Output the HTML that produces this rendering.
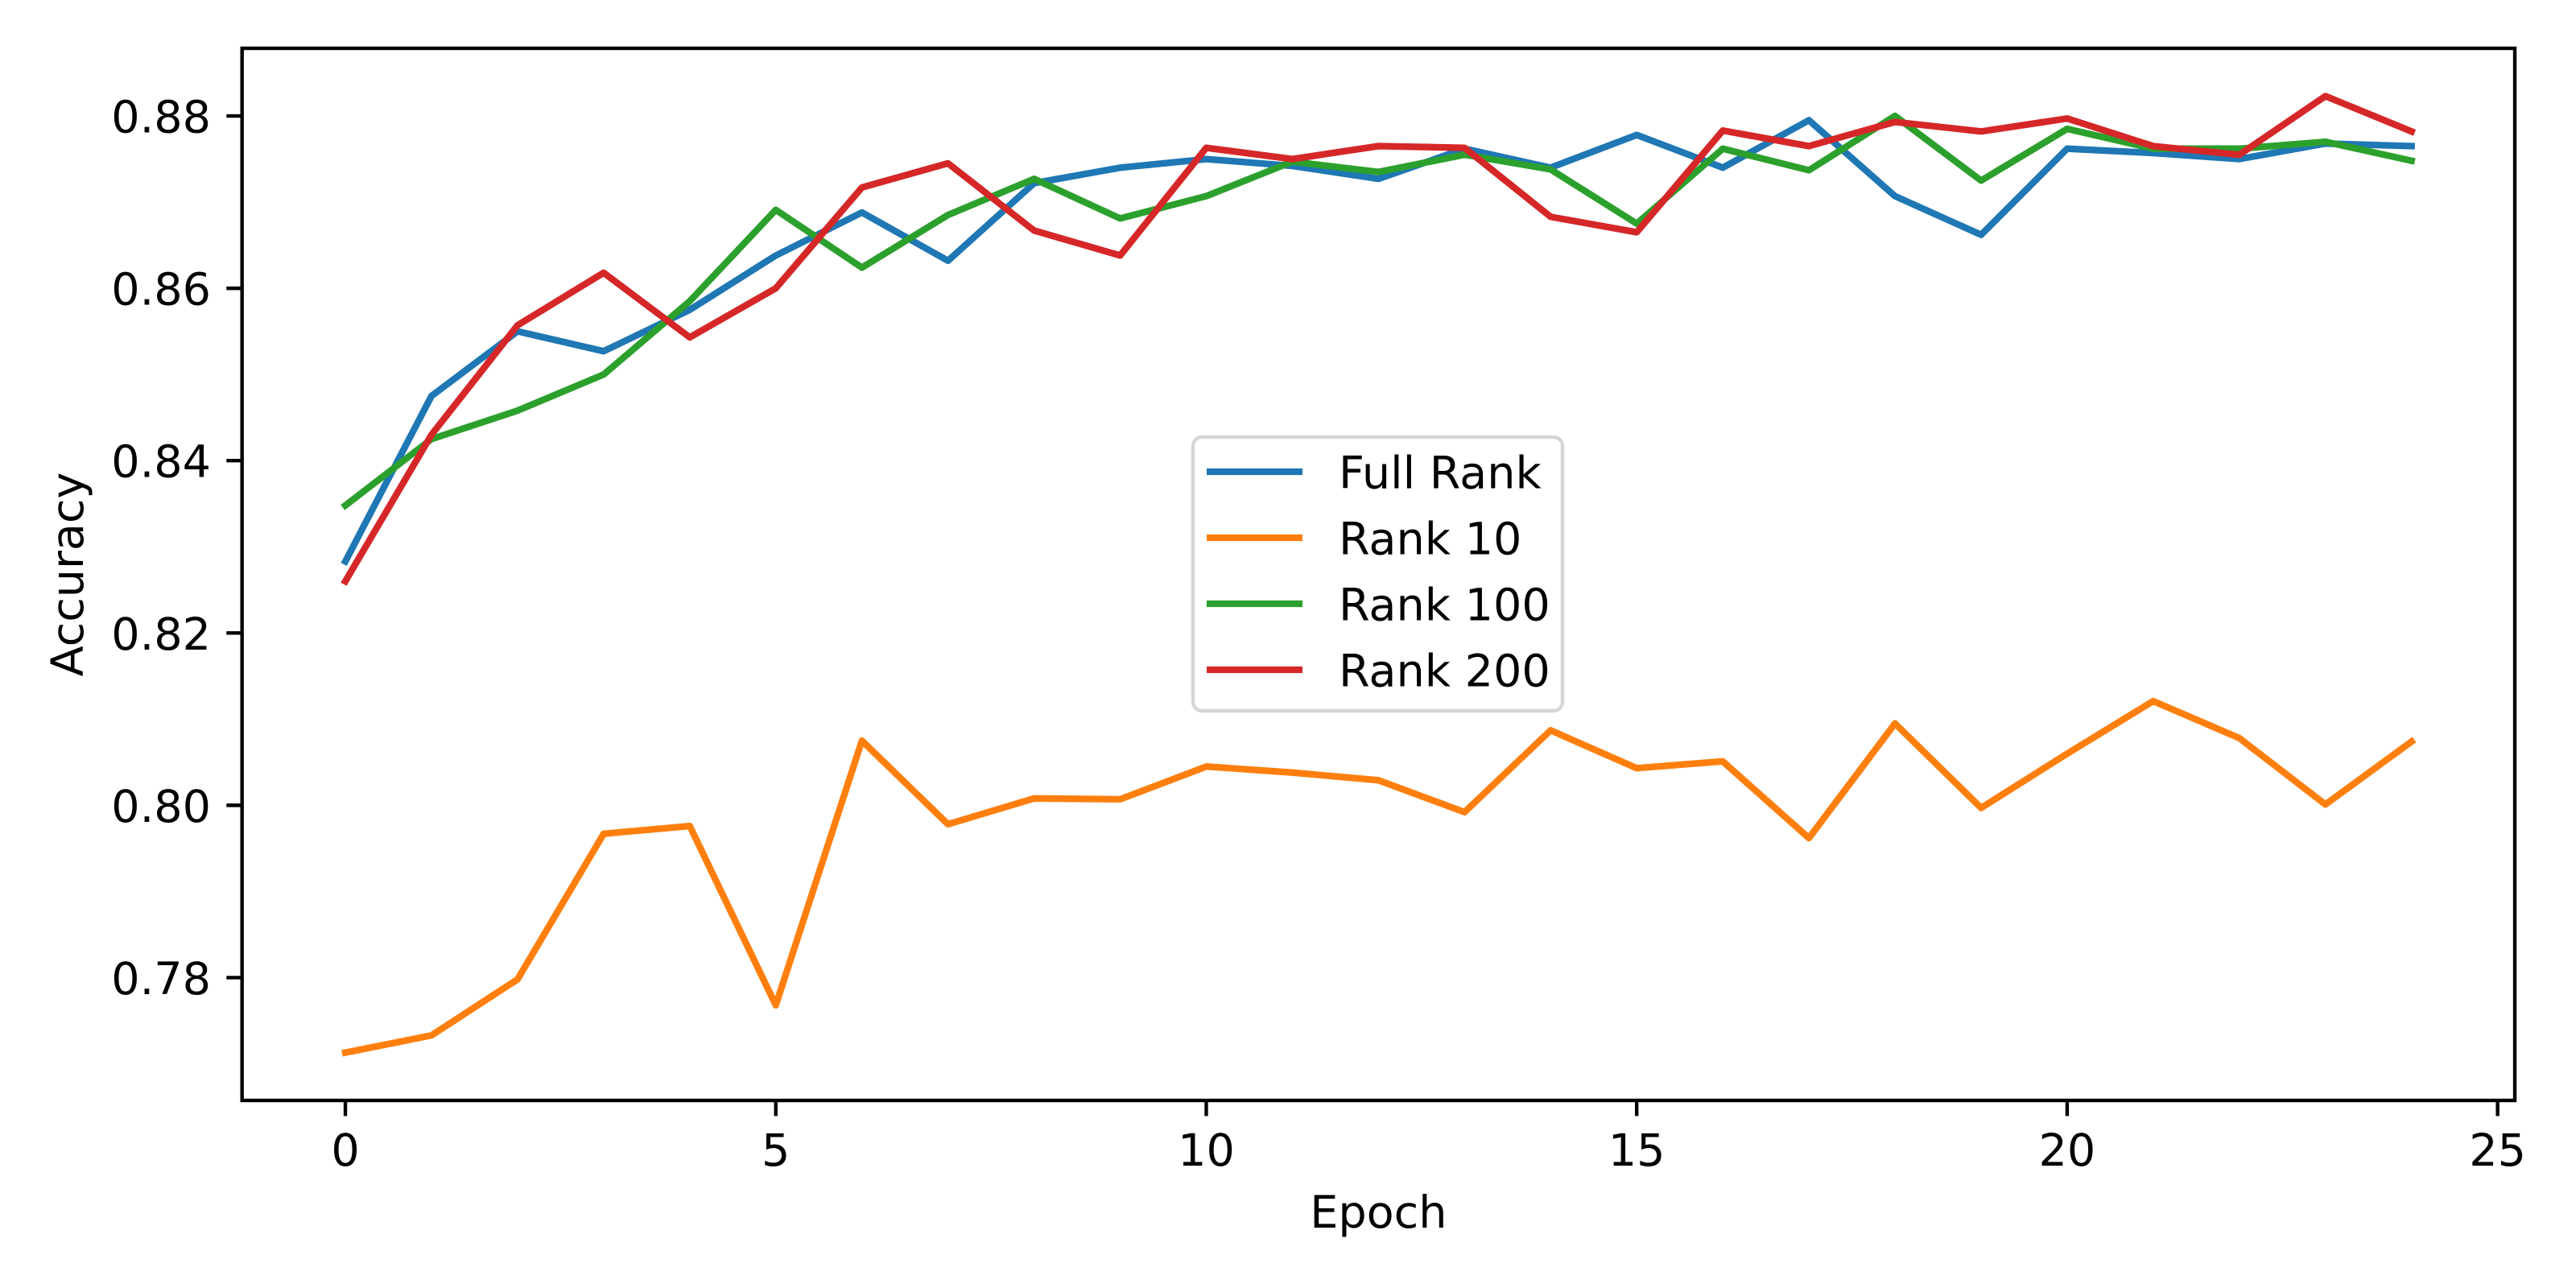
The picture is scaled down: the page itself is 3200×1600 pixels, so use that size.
<!DOCTYPE html>
<html><head><meta charset="utf-8"><style>
html,body{margin:0;padding:0;background:#fff;}
svg{display:block;font-family:"DejaVu Sans","Liberation Sans",sans-serif;}
</style></head><body>
<svg id="chart" width="3200" height="1600" viewBox="0 0 3200 1600" xmlns="http://www.w3.org/2000/svg">
<rect x="0" y="0" width="3200" height="1600" fill="#fff"/>
<g id="plot"></g>
</svg>
<script>
const epochs = [0,1,2,3,4,5,6,7,8,9,10,11,12,13,14,15,16,17,18,19,20,21,22,23,24];
const fullRank = [0.8283,0.8475,0.8550,0.8527,0.8575,0.8638,0.8688,0.8632,0.8722,0.8740,0.8750,0.8742,0.8727,0.8762,0.8740,0.8778,0.8740,0.8795,0.8707,0.8662,0.8762,0.8757,0.8750,0.8768,0.8765];
const rank10 = [0.7713,0.7733,0.7798,0.7967,0.7976,0.7768,0.8075,0.7978,0.8008,0.8007,0.8045,0.8038,0.8029,0.7992,0.8087,0.8043,0.8051,0.7962,0.8095,0.7997,0.8060,0.8121,0.8078,0.8001,0.8074];
const rank100 = [0.8348,0.8425,0.8458,0.8500,0.8585,0.8691,0.8624,0.8685,0.8727,0.8681,0.8707,0.8747,0.8735,0.8755,0.8738,0.8675,0.8762,0.8737,0.8800,0.8725,0.8785,0.8762,0.8762,0.8770,0.8748];
const rank200 = [0.8260,0.8430,0.8557,0.8618,0.8543,0.8600,0.8717,0.8745,0.8667,0.8638,0.8763,0.8750,0.8765,0.8763,0.8683,0.8665,0.8783,0.8765,0.8793,0.8782,0.8797,0.8765,0.8755,0.8823,0.8782];
const xTicks = [0,5,10,15,20,25];
const yTicks = [0.78,0.80,0.82,0.84,0.86,0.88];
const seriesNames = ["Full Rank","Rank 10","Rank 100","Rank 200"];

const NS = "http://www.w3.org/2000/svg";
const L = 300.7, R = 3124, T = 60, B = 1367;
const xMin = -1.2, xMax = 25.2, yMin = 0.76575, yMax = 0.88785;
function sx(v){ return L + (v - xMin) / (xMax - xMin) * (R - L); }
function sy(v){ return B - (v - yMin) / (yMax - yMin) * (B - T); }
const plot = document.getElementById('plot');
function mk(tag, attrs, parent){ const e = document.createElementNS(NS, tag); for (const k in attrs) e.setAttribute(k, attrs[k]); (parent||plot).appendChild(e); return e; }

const colors = ["#1f77b4","#ff7f0e","#2ca02c","#d62728"];
const allSeries = [fullRank, rank10, rank100, rank200];
const keys = ["full-rank","rank-10","rank-100","rank-200"];
allSeries.forEach((s, i) => {
  const pts = s.map((v, j) => sx(epochs[j]).toFixed(1) + "," + sy(v).toFixed(1)).join(" ");
  const pl = mk('polyline', {points: pts, fill: "none", stroke: colors[i], "stroke-width": 8.3, "stroke-linejoin": "round", "stroke-linecap": "square"});
  
  
});

xTicks.forEach(t => {
  const x = sx(t);
  const tk = mk('line', {x1: x, x2: x, y1: B, y2: B + 19.4, stroke: "#000", "stroke-width": 4.4});
  
  
  const tx = mk('text', {x: x, y: 1448, "font-size": 55.6, "text-anchor": "middle", fill: "#000"});
  tx.textContent = String(t);
  
  
});
yTicks.forEach(t => {
  const y = sy(t);
  const tk = mk('line', {x1: L - 19.4, x2: L, y1: y, y2: y, stroke: "#000", "stroke-width": 4.4});
  
  
  const tx = mk('text', {x: 262, y: y + 20.5, "font-size": 55.6, "text-anchor": "end", fill: "#000"});
  tx.textContent = t.toFixed(2);
  
  
});

const frame = mk('rect', {x: L, y: T, width: R - L, height: B - T, fill: "none", stroke: "#000", "stroke-width": 4.4});



const xl = mk('text', {x: (L + R) / 2, y: 1525, "font-size": 55.6, "text-anchor": "middle", fill: "#000"});
xl.textContent = "Epoch";


const yl = mk('text', {x: 0, y: 0, "font-size": 55.6, "text-anchor": "middle", fill: "#000", transform: "translate(103," + ((T + B) / 2) + ") rotate(-90)"});
yl.textContent = "Accuracy";



const lg = mk('g', {});


const box = mk('rect', {x: 1482, y: 543, width: 459, height: 340, rx: 11, fill: "#fff", "fill-opacity": 0.8, stroke: "#d6d6d6", "stroke-width": 4.4}, lg);


seriesNames.forEach((n, i) => {
  const y = 586 + i * 82;
  const ln = mk('line', {x1: 1499, x2: 1618, y1: y, y2: y, stroke: colors[i], "stroke-width": 8.3}, lg);
  
  
  const tx = mk('text', {x: 1663, y: y + 20.5, "font-size": 55.6, fill: "#000"}, lg);
  tx.textContent = n;
  
  
});
</script>
</body></html>
